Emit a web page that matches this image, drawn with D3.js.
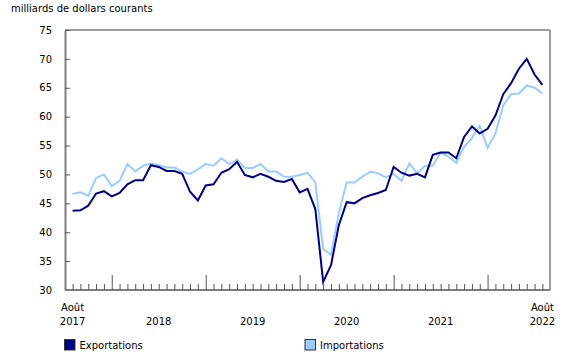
<!DOCTYPE html>
<html>
<head>
<meta charset="utf-8">
<script src="https://cdn.jsdelivr.net/npm/d3@7"></script>
<style>
  body { margin: 0; background: #fff; }
  svg text { font-family: "DejaVu Sans", Verdana, sans-serif; font-size: 10px; fill: #000; }
</style>
</head>
<body>
<svg id="chart" width="580" height="360"></svg>
<script>
const months = [
  "2017-08","2017-09","2017-10","2017-11","2017-12",
  "2018-01","2018-02","2018-03","2018-04","2018-05","2018-06","2018-07","2018-08","2018-09","2018-10","2018-11","2018-12",
  "2019-01","2019-02","2019-03","2019-04","2019-05","2019-06","2019-07","2019-08","2019-09","2019-10","2019-11","2019-12",
  "2020-01","2020-02","2020-03","2020-04","2020-05","2020-06","2020-07","2020-08","2020-09","2020-10","2020-11","2020-12",
  "2021-01","2021-02","2021-03","2021-04","2021-05","2021-06","2021-07","2021-08","2021-09","2021-10","2021-11","2021-12",
  "2022-01","2022-02","2022-03","2022-04","2022-05","2022-06","2022-07","2022-08"
];
const exportations = [
  43.7, 43.8, 44.6, 46.7, 47.1,
  46.2, 46.8, 48.3, 49.0, 49.0, 51.6, 51.3, 50.6, 50.6, 50.1, 47.0, 45.5,
  48.1, 48.3, 50.3, 50.9, 52.2, 49.9, 49.5, 50.1, 49.6, 48.9, 48.7, 49.2,
  46.9, 47.5, 44.0, 31.4, 34.3, 41.2, 45.2, 45.0, 45.9, 46.4, 46.8, 47.3,
  51.3, 50.3, 49.8, 50.1, 49.5, 53.4, 53.8, 53.8, 52.8, 56.5, 58.3, 57.1,
  57.9, 60.2, 63.9, 65.8, 68.3, 70.0, 67.3, 65.5
];
const importations = [
  46.6, 46.9, 46.3, 49.4, 50.0,
  48.0, 48.9, 51.8, 50.5, 51.5, 51.9, 51.6, 51.2, 51.2, 50.5, 50.1, 50.9,
  51.8, 51.5, 52.8, 51.8, 52.6, 51.1, 51.1, 51.8, 50.5, 50.5, 49.6, 49.6,
  49.9, 50.3, 48.6, 37.1, 36.1, 43.3, 48.6, 48.6, 49.6, 50.5, 50.2, 49.5,
  50.1, 48.9, 51.9, 50.2, 51.5, 51.5, 53.8, 53.1, 52.0, 54.8, 56.3, 58.4,
  54.6, 57.1, 62.0, 63.9, 64.0, 65.4, 65.0, 64.0
];
const yTicks = [30, 35, 40, 45, 50, 55, 60, 65, 70, 75];
const yearLabels = [
  {month: "2017-08", top: "Août", bottom: "2017"},
  {month: "2018-07", top: "", bottom: "2018"},
  {month: "2019-07", top: "", bottom: "2019"},
  {month: "2020-07", top: "", bottom: "2020"},
  {month: "2021-07", top: "", bottom: "2021"},
  {month: "2022-08", top: "Août", bottom: "2022"}
];
const unitLabel = "milliards de dollars courants";
const seriesNames = ["Exportations", "Importations"];
const seriesColors = ["#000080", "#99ccff"];

const svg = d3.select("#chart");
const plotL = 65, plotR = 550, plotT = 30, plotB = 290;
const axisColor = "#7f7f7f";

const x = d3.scalePoint().domain(months).range([plotL, plotR]).padding(0.97);
const y = d3.scaleLinear().domain([30, 75]).range([plotB, plotT]);

// frame top & right
svg.append("line").attr("x1", plotL).attr("x2", plotR).attr("y1", plotT).attr("y2", plotT)
  .attr("stroke", axisColor).attr("stroke-width", 1.5);
svg.append("line").attr("x1", plotR).attr("x2", plotR).attr("y1", plotT).attr("y2", plotB)
  .attr("stroke", axisColor).attr("stroke-width", 1.5);

// y axis
const yAxis = d3.axisLeft(y).tickValues(yTicks).tickSize(-5).tickPadding(13).tickSizeOuter(0);
const gy = svg.append("g").attr("transform", `translate(${plotL},0)`).call(yAxis);
gy.select(".domain").attr("stroke", axisColor).attr("stroke-width", 2);
gy.selectAll(".tick line").attr("stroke", "#555").attr("stroke-width", 1);
gy.selectAll(".tick text").style("font-size", "10px").style("font-family", "DejaVu Sans, sans-serif");

// x axis minor/major ticks
const xAxis = d3.axisBottom(x).tickSize(-6).tickFormat("").tickSizeOuter(0);
const gx = svg.append("g").attr("transform", `translate(0,${plotB})`).call(xAxis);
gx.select(".domain").attr("d", `M${plotL},0H${plotR}`).attr("stroke", axisColor).attr("stroke-width", 2);
gx.selectAll(".tick line")
  .attr("stroke", "#555").attr("stroke-width", 1)
  .attr("y2", d => d.endsWith("-01") ? -15 : -6);

// x labels
const lbl = svg.append("g");
yearLabels.forEach(l => {
  if (l.top) lbl.append("text").attr("x", x(l.month)).attr("y", 311).attr("text-anchor", "middle").text(l.top);
  lbl.append("text").attr("x", x(l.month)).attr("y", 325).attr("text-anchor", "middle").text(l.bottom);
});

// unit label
svg.append("text").attr("x", 11).attr("y", 12).text(unitLabel);

// lines
const line = d3.line().x((d, i) => x(months[i])).y(d => y(d));
svg.append("path").datum(importations).attr("d", line)
  .attr("fill", "none").attr("stroke", seriesColors[1]).attr("stroke-width", 2);
svg.append("path").datum(exportations).attr("d", line)
  .attr("fill", "none").attr("stroke", seriesColors[0]).attr("stroke-width", 2);

// legend
const legendX = [64.5, 305];
seriesNames.forEach((name, i) => {
  const g = svg.append("g").attr("transform", `translate(${legendX[i]},339.5)`);
  g.append("rect").attr("width", 10.5).attr("height", 10.5)
    .attr("fill", seriesColors[i]).attr("stroke", "#333").attr("stroke-width", 1);
  g.append("text").attr("x", 15).attr("y", 9.5).text(name);
});
</script>
</body>
</html>
